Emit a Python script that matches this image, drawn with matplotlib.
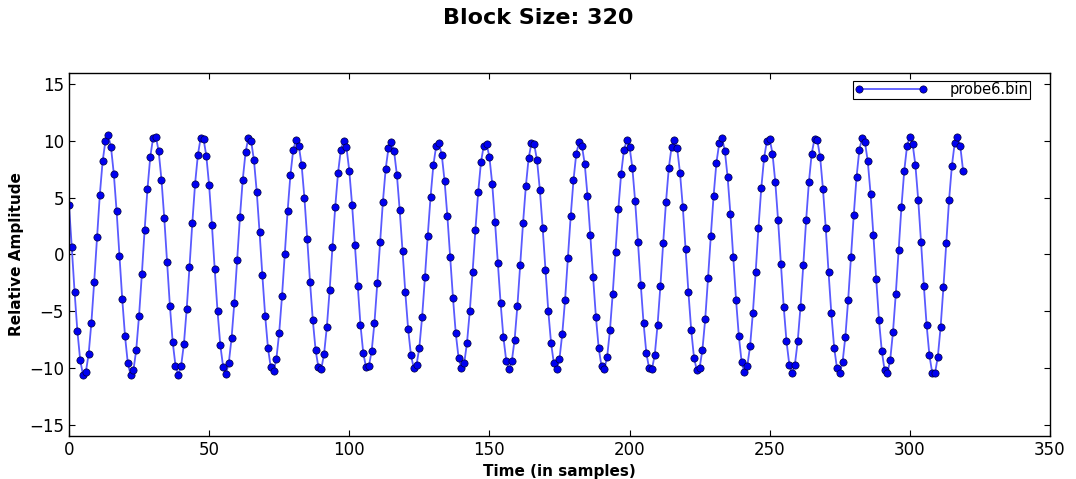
import matplotlib
matplotlib.use('Agg')
import matplotlib.pyplot as plt
import numpy as np

# values, one per sample (0..319)
amplitude = [
    4.4, 0.64, -3.3, -6.75, -9.3, -10.6, -10.4, -8.8, -6.0, -2.4,
    1.5, 5.25, 8.2, 10.0, 10.5, 9.45, 7.1, 3.8, -0.1, -3.9,
    -7.2, -9.6, -10.6, -10.2, -8.4, -5.4, -1.75, 2.2, 5.75, 8.6,
    10.25, 10.4, 9.1, 6.6, 3.2, -0.7, -4.5, -7.7, -9.8, -10.6,
    -9.85, -7.9, -4.8, -1.1, 2.75, 6.25, 8.8, 10.3, 10.2, 8.7,
    6.1, 2.6, -1.3, -5.0, -8.0, -9.9, -10.5, -9.6, -7.4, -4.25,
    -0.5, 3.3, 6.6, 9.0, 10.3, 10.0, 8.3, 5.5, 1.95, -1.85,
    -5.4, -8.25, -9.95, -10.3, -9.2, -6.9, -3.7, 0.05, 3.8, 7.0,
    9.2, 10.1, 9.6, 7.9, 5.0, 1.4, -2.4, -5.8, -8.45, -9.95,
    -10.1, -8.8, -6.4, -3.15, 0.64, 4.2, 7.2, 9.25, 10.0, 9.45,
    7.4, 4.4, 0.85, -2.8, -6.2, -8.7, -9.95, -9.85, -8.5, -6.0,
    -2.55, 1.1, 4.65, 7.55, 9.4, 9.9, 9.1, 7.0, 3.9, 0.35,
    -3.35, -6.55, -8.85, -10.0, -9.75, -8.2, -5.5, -2.0, 1.65, 5.05,
    7.85, 9.55, 9.8, 8.8, 6.5, 3.4, -0.2, -3.8, -6.95, -9.1,
    -10.0, -9.6, -7.8, -5.0, -1.55, 2.15, 5.5, 8.15, 9.6, 9.75,
    8.6, 6.25, 2.9, -0.75, -4.3, -7.3, -9.35, -10.1, -9.4, -7.5,
    -4.5, -0.9, 2.75, 6.0, 8.5, 9.8, 9.7, 8.3, 5.7, 2.35,
    -1.35, -4.95, -7.8, -9.6, -10.1, -9.2, -7.0, -4.0, -0.3, 3.35,
    6.55, 8.9, 9.9, 9.6, 8.0, 5.2, 1.7, -2.0, -5.5, -8.25,
    -9.85, -10.1, -9.05, -6.7, -3.45, 0.25, 4.0, 7.1, 9.2, 10.05,
    9.5, 7.65, 4.7, 1.1, -2.65, -6.05, -8.7, -10.05, -10.1, -8.85,
    -6.2, -2.8, 1.0, 4.6, 7.6, 9.5, 10.1, 9.35, 7.2, 4.2,
    0.5, -3.3, -6.65, -9.1, -10.2, -10.0, -8.4, -5.7, -2.1, 1.65,
    5.2, 8.1, 9.8, 10.25, 9.15, 6.8, 3.55, -0.25, -4.0, -7.2,
    -9.5, -10.4, -9.85, -8.1, -5.15, -1.55, 2.35, 5.85, 8.5, 10.0,
    10.2, 8.9, 6.4, 3.0, -0.85, -4.6, -7.65, -9.7, -10.45, -9.7,
    -7.65, -4.6, -0.9, 3.0, 6.4, 8.9, 10.2, 10.05, 8.6, 5.8,
    2.35, -1.55, -5.2, -8.2, -10.0, -10.45, -9.5, -7.25, -4.0, -0.25,
    3.5, 6.85, 9.25, 10.3, 9.9, 8.2, 5.35, 1.7, -2.15, -5.8,
    -8.5, -10.2, -10.45, -9.3, -6.8, -3.45, 0.4, 4.15, 7.35, 9.55,
    10.4, 9.75, 7.85, 4.8, 1.1, -2.75, -6.25, -8.9, -10.45, -10.45,
    -9.0, -6.35, -2.85, 1.0, 4.8, 7.8, 9.8, 10.4, 9.55, 7.4,
]
samples = np.arange(len(amplitude))
series_label = "probe6.bin"
title = "Block Size: 320"

fig = plt.figure(figsize=(10.76, 4.79), dpi=100)
ax = fig.add_axes([0.0641, 0.0898, 0.9117, 0.7578])

ax.plot(samples, amplitude, color='#5a5aff', lw=1.3,
        marker='o', markersize=5.2, markerfacecolor='#0000f0',
        markeredgecolor='#00003a', markeredgewidth=0.5, label=series_label)

ax.set_xlim(0, 350)
ax.set_ylim(-16, 16)
ax.set_xticks(range(0, 351, 50))
ax.set_yticks(range(-15, 16, 5))
ax.tick_params(direction='in', top=True, right=True, labelsize=12, length=4)
for s in ax.spines.values():
    s.set_linewidth(1.0)

ax.set_xlabel("Time (in samples)", fontsize=11, fontweight='bold')
ax.set_ylabel("Relative Amplitude", fontsize=11, fontweight='bold')
fig.suptitle(title, fontsize=16, fontweight='bold', y=0.962, va='center')

leg = ax.legend(loc='upper right', bbox_to_anchor=(0.9796, 0.978),
                numpoints=2, fancybox=False, fontsize=10.5,
                handlelength=5.0, borderpad=0.1, borderaxespad=0.0,
                handletextpad=1.5, framealpha=1)
leg.get_frame().set_edgecolor('black')
leg.get_frame().set_linewidth(0.8)

fig.savefig("out.png", dpi=100)
plt.close()
